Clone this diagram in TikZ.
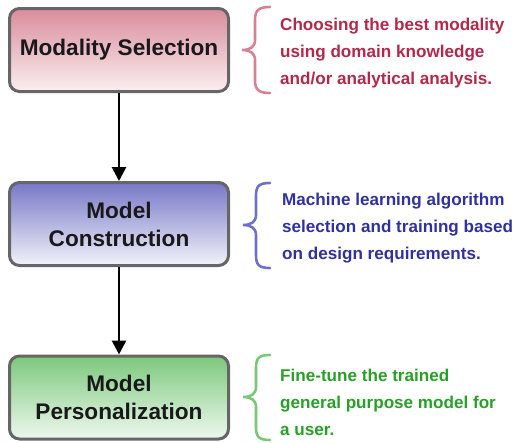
\documentclass[tikz,border=0pt]{standalone}
\usepackage{fontspec}
\setmainfont{Liberation Sans}
\usetikzlibrary{arrows.meta}
\definecolor{redtxt}{HTML}{B3284A}
\definecolor{redbr}{HTML}{D68294}
\definecolor{redtop}{HTML}{D98C9B}
\definecolor{redbot}{HTML}{FBEFF1}
\definecolor{bluetxt}{HTML}{3030A0}
\definecolor{bluebr}{HTML}{7070C8}
\definecolor{bluetop}{HTML}{7878C8}
\definecolor{bluebot}{HTML}{F2F2FA}
\definecolor{greentxt}{HTML}{28A028}
\definecolor{greenbr}{HTML}{78C878}
\definecolor{greentop}{HTML}{7CC87C}
\definecolor{greenbot}{HTML}{EEF8EE}
\definecolor{boxline}{HTML}{666666}
\tikzset{
  stagebox/.style={draw=boxline, line width=3pt, rounded corners=10pt,
    minimum width=219pt, minimum height=83pt, align=center,
    font=\fontsize{22.6}{28}\selectfont\bfseries, text=black!90, inner sep=0pt},
  desc/.style={anchor=west, align=left, inner sep=0pt,
    font=\fontsize{17.1}{27}\selectfont\bfseries},
  bracestyle/.style={line width=2.6pt, line cap=round},
  flow/.style={line width=2.8pt, -{Triangle[length=14pt,width=14pt]}}
}
\begin{document}
\begin{tikzpicture}[x=1pt,y=-1pt]
\useasboundingbox (0,0) rectangle (514,442);
\node[stagebox, top color=redtop, bottom color=redbot] (ms) at (119,50) {Modality Selection};
\node[stagebox, top color=bluetop, bottom color=bluebot] (mc) at (119,224) {Model\\Construction};
\node[stagebox, top color=greentop, bottom color=greenbot] (mp) at (119,397.5) {Model\\Personalization};
\draw[flow] (ms) -- (mc);
\draw[flow] (mc) -- (mp);
% braces
\draw[bracestyle, redbr] (270,7) .. controls (259,7) and (255,10) .. (255,20) -- (255,40)
  .. controls (255,47) and (250,50) .. (242,50) .. controls (250,50) and (255,53) .. (255,60)
  -- (255,80) .. controls (255,90) and (259,93) .. (270,93);
\draw[bracestyle, bluebr] (270,183) .. controls (259,183) and (256,186) .. (256,196) -- (256,215)
  .. controls (256,222) and (251,225) .. (243,225) .. controls (251,225) and (256,228) .. (256,235)
  -- (256,255) .. controls (256,265) and (259,268) .. (270,268);
\draw[bracestyle, greenbr] (270,355) .. controls (259,355) and (256,358) .. (256,368) -- (256,387)
  .. controls (256,394) and (251,397) .. (243,397) .. controls (251,397) and (256,400) .. (256,407)
  -- (256,427) .. controls (256,437) and (259,440) .. (270,440);
\node[desc, text=redtxt] (d1) at (280,53) {Choosing the best modality\\using domain knowledge\\and/or analytical analysis.};
\node[desc, text=bluetxt] (d2) at (282,228) {Machine learning algorithm\\selection and training based\\on design requirements.};
\node[desc, text=greentxt] (d3) at (280,402) {Fine-tune the trained\\general purpose model for\\a user.};
\end{tikzpicture}
\end{document}
